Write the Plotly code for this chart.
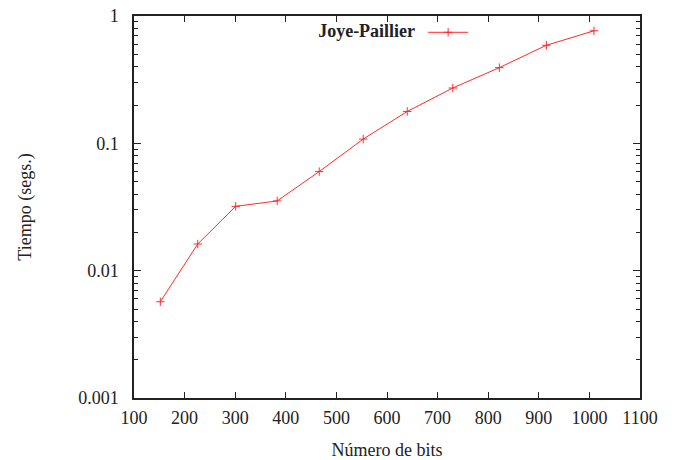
import plotly.graph_objects as go

bits = [152, 226, 301, 383, 466, 553, 640, 730, 822, 915, 1009]
tiempo = [0.0057, 0.0162, 0.032, 0.0353, 0.060, 0.108, 0.178, 0.272, 0.393, 0.589, 0.765]
series_name = "Joye-Paillier"
x_ticks = list(range(100, 1101, 100))
y_ticks = [0.001, 0.01, 0.1, 1]
y_ticktext = ["0.001", "0.01", "0.1", "1"]

font = "Liberation Serif"
red = "#ff2a2a"

fig = go.Figure()
fig.add_trace(go.Scatter(
    x=bits, y=tiempo, mode="lines+markers", name=" ",
    line=dict(color=red, width=1),
    marker=dict(symbol="cross-thin", size=6, line=dict(color=red, width=1)),
))

fig.update_layout(
    width=691, height=460,
    margin=dict(l=134, r=51, t=16, b=62, autoexpand=False),
    paper_bgcolor="white", plot_bgcolor="white",
    font=dict(family=font, size=18, color="#222"),
    showlegend=True,
    legend=dict(
        title=dict(text="<b>" + series_name + "</b>", side="left", font=dict(size=18, family=font)),
        x=0.69, y=1.005, xanchor="right", yanchor="top",
        bgcolor="rgba(0,0,0,0)", itemwidth=40,
    ),
    xaxis=dict(
        range=[100, 1100], tickvals=x_ticks, ticks="inside", ticklen=6,
        tickcolor="#222", showline=True, linecolor="#222", linewidth=1.5, mirror="ticks",
        showgrid=False, zeroline=False, ticklabelstandoff=3, automargin=False,
        title=dict(text="Número de bits", font=dict(size=18, family=font), standoff=16),
        tickfont=dict(size=18, family=font),
    ),
    yaxis=dict(
        type="log", range=[-3, 0], tickvals=y_ticks, ticktext=y_ticktext,
        ticks="inside", ticklen=7, tickcolor="#222",
        showline=True, linecolor="#222", linewidth=1.5, mirror="ticks",
        showgrid=False, zeroline=False, ticklabelstandoff=10, automargin=False,
        minor=dict(ticks="inside", ticklen=4, tickcolor="#222", dtick="D1", showgrid=False),
        title=dict(text="Tiempo (segs.)", font=dict(size=18, family=font), standoff=42),
        tickfont=dict(size=18, family=font),
    ),
)

fig.write_html("out.html", config={"displayModeBar": False},
               post_script="document.body.style.margin='0';")
